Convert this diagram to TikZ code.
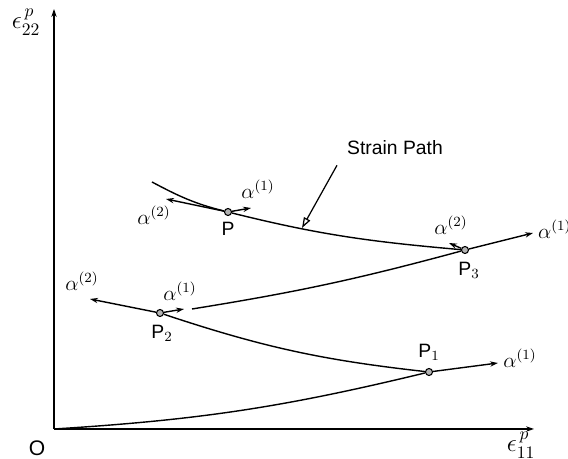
\documentclass[tikz,border=0pt]{standalone}
\usepackage{amsmath,amssymb}
\usepackage{fontspec}
\setmainfont{Liberation Sans}
\usetikzlibrary{positioning,arrows.meta,bending}

\begin{document}
\begin{tikzpicture}[
  x=0.02cm, y=0.02cm,
  pt/.style={circle, draw, line width=0.6pt, minimum size=4pt, inner sep=0pt, fill=gray!60},
  path/.style={line width=0.8pt},
  dir/.style={line width=0.8pt, -{Stealth[length=4.5pt,width=3pt]}},
  ptlabel/.style={font=\fontsize{11}{13}\selectfont},
  alab/.style={font=\large}
]
\useasboundingbox (0,0) rectangle (568,459);

% Axes
\coordinate (O) at (54,30);
\coordinate (Y) at (54,450);
\coordinate (X) at (534,30);
\draw[dir, line width=0.7pt] (O) -- (Y);
\draw[dir, line width=0.7pt] (O) -- (X);
\node (Olab) at (37,11) {\fontsize{12}{14}\selectfont O};
\node[font=\Large] (e22) at (26,437) {$\epsilon^{\,p}_{22}$};
\node[font=\Large, inner sep=1pt] (e11) at (521,14) {$\epsilon^{\,p}_{11}$};

% Points on the strain path
\node[pt] (P1) at (429,87)  {};
\node[pt] (P2) at (160,146) {};
\node[pt] (P3) at (465,209) {};
\node[pt] (P)  at (228,247) {};
\coordinate (S)  at (152,277);
\coordinate (Q)  at (192,150);

\node[ptlabel] (P1lab) at (429,107) {P$_1$};
\node[ptlabel] (P2lab) at (162,126) {P$_2$};
\node[ptlabel] (P3lab) at (469,189) {P$_3$};
\node[ptlabel] (Plab)  at (228,230) {P};

% --- strain path O -> P1 -> P2, then Q -> P3 -> P ---
\draw[path] (O)  to[bend right=5] (P1);
\draw[path] (P1) to[bend left=6]  (P2);
\draw[path] (Q)  to[bend right=3] (P3);
\draw[path] (P3) to[out=175, in=-14] (P) to[out=166, in=-28] (S);

% --- alpha directions ---
\coordinate (a1P1) at (498,96);
\coordinate (a1P2) at (184,150);
\coordinate (a2P2) at (90,160);
\coordinate (a1P3) at (533,226);
\coordinate (a2P3) at (449,216);
\coordinate (a1P)  at (251,251);
\coordinate (a2P)  at (166,260);

\draw[dir] (P1) -- (a1P1);
\draw[dir] (P2) -- (a1P2);
\draw[dir] (P2) -- (a2P2);
\draw[dir] (P3) -- (a1P3);
\draw[dir] (P3) -- (a2P3);
\draw[dir] (P)  -- (a1P);
\draw[dir] (P)  -- (a2P);

\node[alab] (l1P1) at (520,101) {$\alpha^{(1)}$};
\node[alab] (l1P2) at (180,168) {$\alpha^{(1)}$};
\node[alab] (l2P2) at (82,178)  {$\alpha^{(2)}$};
\node[alab, anchor=west, inner sep=1pt] (l1P3) at (536,230) {$\alpha^{(1)}$};
\node[alab] (l2P3) at (451,234) {$\alpha^{(2)}$};
\node[alab] (l1P)  at (258,270) {$\alpha^{(1)}$};
\node[alab] (l2P)  at (154,244) {$\alpha^{(2)}$};

% Strain path label
\node[anchor=west, font=\fontsize{11}{13}\selectfont] (sp) at (341,311) {Strain Path};
\coordinate (sptip) at (302,231);
\draw[line width=0.7pt, -{Triangle[open, length=6pt, width=4pt]}] (sp.south west) ++(-4,-4) coordinate (spfoot) -- (sptip);

\end{tikzpicture}
\end{document}
